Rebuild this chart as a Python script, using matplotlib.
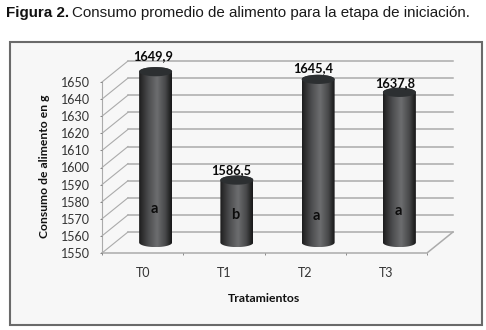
import numpy as np
import matplotlib
matplotlib.use("Agg")
import matplotlib.pyplot as plt
from matplotlib.patches import Rectangle, PathPatch
from matplotlib.path import Path
from matplotlib.font_manager import fontManager

categories = ["T0", "T1", "T2", "T3"]
values = [1649.9, 1586.5, 1645.4, 1637.8]
value_labels = ["1649,9", "1586,5", "1645,4", "1637,8"]
letters = ["a", "b", "a", "a"]
letter_heights = [1575.7, 1572.2, 1571.6, 1574.5]
yticks = list(range(1550, 1660, 10))

W, H = 486, 330
names = {f.name for f in fontManager.ttflist}
narrow = "Liberation Sans Narrow" if "Liberation Sans Narrow" in names else "Liberation Sans"
PX = 72 / 100
SX, SY = 81.25, 1.71
XMAX, YMAX = 4.5, 1690

fig = plt.figure(figsize=(W / 100, H / 100), dpi=100, facecolor="white")
fig.add_artist(Rectangle((9.5 / W, 1 - 325 / H), 472.5 / W, 283 / H, transform=fig.transFigure,
                         facecolor="#f7f7f7", edgecolor="#6a6a6a", lw=1.5, zorder=-5))
ax = fig.add_axes([102 / W, 1 - 253 / H, XMAX * SX / W, (YMAX - 1550) * SY / H])
ax.patch.set_alpha(0)
for s in ax.spines.values():
    s.set_visible(False)

DX, DY = 26 / SX, 21 / SY
GRID = "#ababab"
for v in yticks:
    ax.plot([0, DX], [v, v + DY], color=GRID, lw=0.8, clip_on=False, zorder=1)
    ax.plot([DX, 4 + DX], [v + DY, v + DY], color=GRID, lw=1.1, clip_on=False, zorder=1)
ax.plot([0, 4, 4 + DX], [1550, 1550, 1550 + DY], color=GRID, lw=1.1, clip_on=False, zorder=1)
ax.plot([0, 0], [1550, 1650], color=GRID, lw=0.8, clip_on=False, zorder=1)

stops = np.array([0.0, 0.10, 0.30, 0.55, 0.80, 0.93, 1.0])
shade = np.array([0x1c, 0x2e, 0x4e, 0x6c, 0x48, 0x26, 0x18])
xs = np.linspace(0, 1, 128)
grad = np.interp(xs, stops, shade)[None, :] / 255
rw, rh = 33 / SX / 2, 4.6 / SY

def ellipse_path(cx, cy, rx, ry, theta1, theta2):
    t = np.radians(np.linspace(theta1, theta2, 60))
    return cx + rx * np.cos(t), cy + ry * np.sin(t)

for i, v in enumerate(values):
    cx = i + 0.5 + DX / 2
    y0, y1 = 1550 + DY / 2, v + DY / 2
    bx, by = ellipse_path(cx, y0, rw, rh, 180, 360)
    tx, ty = ellipse_path(cx, y1, rw, rh, 0, 180)
    verts = np.r_[np.c_[bx, by], np.c_[tx, ty], [[bx[0], by[0]]]]
    clip = PathPatch(Path(verts), transform=ax.transData, facecolor="none", edgecolor="none", zorder=3)
    ax.add_patch(clip)
    im = ax.imshow(np.dstack([grad, grad * 1.01, grad * 1.03]).clip(0, 1), extent=[cx - rw, cx + rw, y0 - rh, y1 + rh],
                   aspect="auto", zorder=3, interpolation="bilinear")
    im.set_clip_path(clip)
    ex, ey = ellipse_path(cx, y1, rw, rh, 0, 360)
    ax.fill(ex, ey, color="#2c2f31", zorder=4, clip_on=False, lw=0)
ax.set_xlim(0, XMAX)
ax.set_ylim(1550, YMAX)

label_offsets = [(-2.6, 15.5), (-5.5, 10), (-5, 11), (-4, 9.4)]
for i, (v, t, off) in enumerate(zip(values, value_labels, label_offsets)):
    ax.annotate(t, (i + 0.5 + DX / 2, v + DY / 2), xytext=(off[0] * PX, off[1] * PX), textcoords="offset points",
                ha="center", va="center", family="Lato", weight="bold", fontsize=9.2, color="#0a0a0a",
                annotation_clip=False, zorder=6)
for i, (t, y) in enumerate(zip(letters, letter_heights)):
    ax.annotate(t, (i + 0.5 + DX / 2, y), xytext=(-1.5 * PX, 0), textcoords="offset points", ha="center", va="center",
                family="Lato", weight="bold", fontsize=10.5, color="#0c0c0c", zorder=6)

ax.set_yticks(yticks)
ax.set_yticklabels([str(t) for t in yticks], family="Lato", fontsize=9, color="#333333")
ax.set_xticks(np.arange(5))
ax.set_xticklabels([""] * 5)
ax.tick_params(axis="y", length=2 * PX, width=0.7, color="#888888", pad=7)
ax.tick_params(axis="x", length=2.5 * PX, width=0.7, color="#888888")
for i, c in enumerate(categories):
    ax.annotate(c, (i + 0.5, 1550), xytext=(0, -20 * PX), textcoords="offset points", ha="center", va="center",
                family="Lato", fontsize=9, color="#333333", annotation_clip=False)

fig.text(45 / W, 1 - 166 / H, "Consumo de alimento en g", rotation=90, ha="center", va="center",
         family="Lato", weight="bold", fontsize=8.7, color="#111111")
fig.text(264 / W, 1 - 299 / H, "Tratamientos", ha="center", va="center",
         family="Lato", weight="bold", fontsize=8.8, color="#111111")
t1 = fig.text(6 / W, 1 - 13 / H, "Figura 2.", ha="left", va="center", family=narrow, weight="bold",
              fontsize=10.9, color="#111111")
fig.canvas.draw()
bb = t1.get_window_extent()
fig.text((bb.x1 + 3) / W, 1 - 13 / H, "Consumo promedio de alimento para la etapa de iniciación.", ha="left", va="center",
         family=narrow, fontsize=10.9, color="#1a1a1a")
fig.savefig("out.png", dpi=100, facecolor="white")
